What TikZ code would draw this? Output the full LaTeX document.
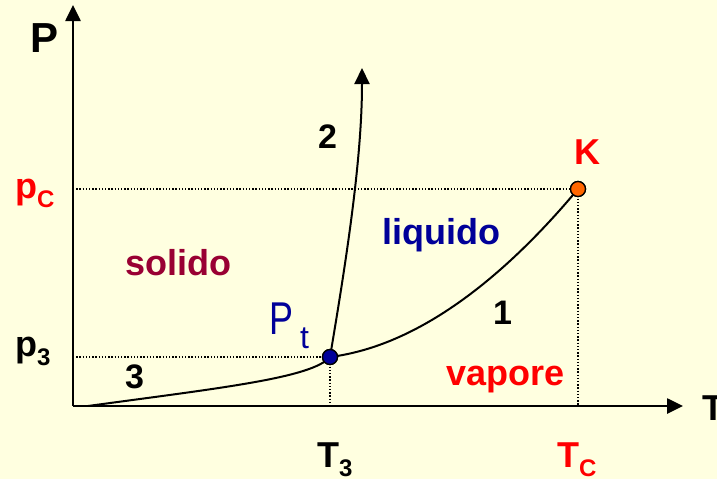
\documentclass[tikz,border=0pt]{standalone}
\usepackage{fontspec}
\setmainfont{Liberation Sans}
\usetikzlibrary{arrows.meta}
\definecolor{bg}{RGB}{255,255,224}
\definecolor{navy}{RGB}{0,0,153}
\definecolor{wine}{RGB}{153,0,51}
\definecolor{orng}{RGB}{255,102,0}
\newcommand{\subs}[2]{\raisebox{#1}{\fontsize{24}{24}\selectfont #2}}
\begin{document}
\begin{tikzpicture}[x=1pt,y=-1pt,
  lbl/.style={anchor=base west,inner sep=0pt,font=\bfseries\fontsize{36}{36}\selectfont},
  axis/.style={line width=2.6pt,-{Triangle[length=16pt,width=15pt]}},
  curve/.style={line width=2pt},
  guide/.style={line width=1.4pt,dash pattern=on 1.4pt off 1.8pt},
  dot/.style={circle,draw=black,line width=1.3pt,minimum size=15pt,inner sep=0pt}]
\useasboundingbox (0,0) rectangle (717,479);
\fill[bg] (0,0) rectangle (717,479);
% key points
\coordinate (O) at (73,406);
\coordinate (ytip) at (73,5);
\coordinate (xtip) at (683,406);
\coordinate (c3start) at (88,406);
\coordinate (c2end) at (362,68);
\node[dot,fill=navy] (pt) at (330,357) {};
\node[dot,fill=orng] (K) at (578,189) {};
% guide lines
\draw[guide] (O |- K) -- (K.center);
\draw[guide] (K.center) -- (K |- O);
\draw[guide] (O |- pt) -- (pt.center);
\draw[guide] (pt.center) -- (pt |- O);
% axes
\draw[axis] (O) -- (ytip);
\draw[axis] (O) -- (xtip);
% curves
\draw[curve] (c3start) .. controls (220,388) and (312,378) .. (pt.center);
\draw[curve] (pt.center) .. controls (425,345) and (512,268) .. (K.center);
\draw[curve,-{Triangle[length=16pt,width=15pt]}] (pt.center) .. controls (346,262) and (362,160) .. (c2end);
% redraw dots on top
\node[dot,fill=navy] at (pt) {};
\node[dot,fill=orng] at (K) {};
% labels
\node[lbl,font=\bfseries\fontsize{42}{42}\selectfont] (Plbl) at (30,52) {P};
\node[lbl] (Tlbl) at (702,420) {T};
\node[lbl] (T3) at (317,467) {T\subs{-9pt}{3}};
\node[lbl,text=red] (TC) at (557,467) {T\subs{-9pt}{C}};
\node[lbl,text=red] (pC) at (15,198) {p\subs{-9pt}{C}};
\node[lbl] (p3) at (15,356) {p\subs{-9pt}{3}};
\node[lbl,text=red] (Klbl) at (574,164) {K};
\node[lbl,font=\bfseries\fontsize{34}{34}\selectfont] (l2) at (318,148) {2};
\node[lbl,font=\bfseries\fontsize{34}{34}\selectfont] (l1) at (493,324) {1};
\node[lbl,font=\bfseries\fontsize{34}{34}\selectfont] (l3) at (125,388) {3};
\node[lbl,text=navy] (liq) at (382,244) {liquido};
\node[lbl,text=wine] (sol) at (125,275) {solido};
\node[lbl,text=red] (vap) at (446,385) {vapore};
\node[anchor=base west,inner sep=0pt,text=navy,font=\fontsize{46}{46}\selectfont] (Ptlbl) at (269,334) {\scalebox{0.78}[1]{P}};
\node[anchor=base west,inner sep=0pt,text=navy,font=\fontsize{32}{32}\selectfont] (tlbl) at (300,348) {t};
\end{tikzpicture}
\end{document}
